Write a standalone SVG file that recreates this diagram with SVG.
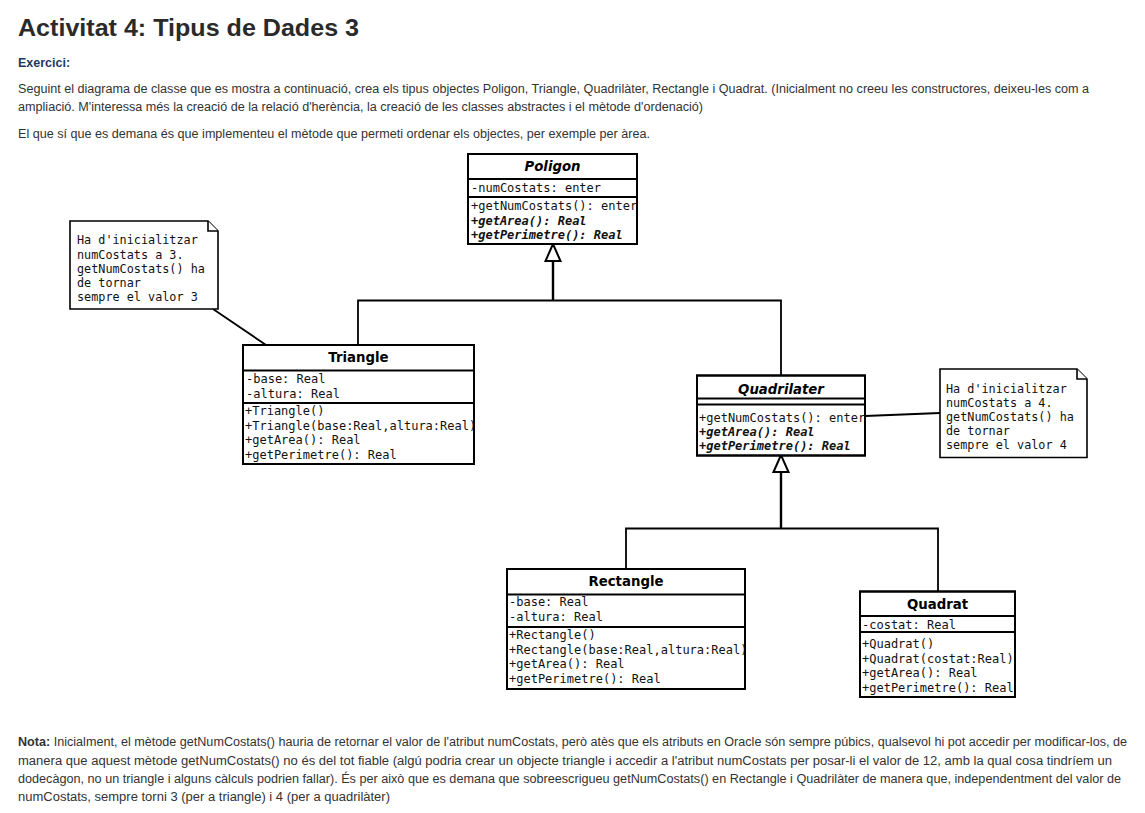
<svg xmlns="http://www.w3.org/2000/svg" width="1145" height="813" viewBox="0 0 1145 813">
<style>
.h1{font-family:"Liberation Sans",Arial,sans-serif;font-weight:bold;font-size:24px;fill:#2a2a2a}
.ex{font-family:"Liberation Sans",Arial,sans-serif;font-weight:bold;font-size:12.5px;fill:#1d3b5c}
.p{font-family:"Liberation Sans",Arial,sans-serif;font-size:12.3px;fill:#333}
.b{font-weight:bold}
.box{fill:#fff;stroke:#000;stroke-width:2}
.div{stroke:#000;stroke-width:2;fill:none}
.ttl{font-family:"DejaVu Sans",sans-serif;font-weight:bold;font-size:13.3px;fill:#000;text-anchor:middle}
.it{font-style:italic}
.m{font-family:"DejaVu Sans Mono",monospace;font-size:12px;fill:#111}
.mbi{font-weight:bold;font-style:italic}
.note{fill:#fff;stroke:#000;stroke-width:1.6}
.nt{font-family:"DejaVu Sans Mono",monospace;font-size:11.8px;fill:#111}
.ln{stroke:#000;stroke-width:1.8;fill:none}
.trunk{stroke:#000;stroke-width:2.4;fill:none}
.arr{fill:#fff;stroke:#000;stroke-width:2}
</style>
<defs>
<clipPath id="cPol"><rect x="468" y="154" width="169" height="90"/></clipPath>
<clipPath id="cTri"><rect x="243" y="345" width="231" height="119"/></clipPath>
<clipPath id="cQl"><rect x="697" y="375.5" width="168" height="80"/></clipPath>
<clipPath id="cRec"><rect x="507" y="569" width="238" height="120"/></clipPath>
<clipPath id="cQd"><rect x="860" y="591.5" width="155" height="105.5"/></clipPath>
</defs>
<rect width="1145" height="813" fill="#fff"/>

<g id="page-text">
<text class="h1" x="18" y="36" textLength="341" lengthAdjust="spacingAndGlyphs">Activitat 4: Tipus de Dades 3</text>
<text class="ex" x="18" y="67">Exercici:</text>
<text class="p" x="18" y="93" textLength="1071" lengthAdjust="spacingAndGlyphs">Seguint el diagrama de classe que es mostra a continuació, crea els tipus objectes Poligon, Triangle, Quadrilàter, Rectangle i Quadrat. (Inicialment no creeu les constructores, deixeu-les com a</text>
<text class="p" x="18" y="111" textLength="685" lengthAdjust="spacingAndGlyphs">ampliació. M'interessa més la creació de la relació d'herència, la creació de les classes abstractes i el mètode d'ordenació)</text>
<text class="p" x="18" y="138" textLength="632" lengthAdjust="spacingAndGlyphs">El que sí que es demana és que implementeu el mètode que permeti ordenar els objectes, per exemple per àrea.</text>
<text class="p" x="18" y="745.5" textLength="1109" lengthAdjust="spacingAndGlyphs"><tspan class="b">Nota:</tspan> Inicialment, el mètode getNumCostats() hauria de retornar el valor de l'atribut numCostats, però atès que els atributs en Oracle són sempre púbics, qualsevol hi pot accedir per modificar-los, de</text>
<text class="p" x="18" y="764.5" textLength="1094" lengthAdjust="spacingAndGlyphs">manera que aquest mètode getNumCostats() no és del tot fiable (algú podria crear un objecte triangle i accedir a l'atribut numCostats per posar-li el valor de 12, amb la qual cosa tindríem un</text>
<text class="p" x="18" y="782.5" textLength="1103" lengthAdjust="spacingAndGlyphs">dodecàgon, no un triangle i alguns càlculs podrien fallar). És per això que es demana que sobreescrigueu getNumCostats() en Rectangle i Quadrilàter de manera que, independentment del valor de</text>
<text class="p" x="18" y="800.5" textLength="372" lengthAdjust="spacingAndGlyphs">numCostats, sempre torni 3 (per a triangle) i 4 (per a quadrilàter)</text>
</g>

<g id="connectors">
<path class="trunk" d="M553,261 V300.5"/>
<path class="ln" d="M358,345 V300.5 H781 V375.5"/>
<polygon class="arr" points="553,244 545.5,261 560.5,261"/>
<path class="trunk" d="M781,472 V528.5"/>
<path class="ln" d="M626,569 V528.5 H938 V591.5"/>
<polygon class="arr" points="781,455 773.5,472 788.5,472"/>
<path class="ln" d="M213,309 L266,345"/>
<path class="ln" d="M865,416 L940,413"/>
</g>

<g id="Poligon">
<rect class="box" x="468" y="154" width="169" height="90"/>
<g clip-path="url(#cPol)">
<text class="ttl it" x="552.5" y="171">Poligon</text>
<text class="m" x="471" y="192">-numCostats: enter</text>
<text class="m" x="471" y="210">+getNumCostats(): enter</text>
<text class="m mbi" x="471" y="224.5">+getArea(): Real</text>
<text class="m mbi" x="471" y="239">+getPerimetre(): Real</text>
</g>
<path class="div" d="M468,179 H637 M468,197 H637"/>
<rect x="468" y="154" width="169" height="90" fill="none" stroke="#000" stroke-width="2"/>
</g>

<g id="note1">
<path class="note" d="M70,221 H208 L218,231 V309 H70 Z"/>
<path class="note" d="M208,221 V231 H218" fill="none"/>
<text class="nt" x="77" y="244">Ha d'inicialitzar</text>
<text class="nt" x="77" y="258.5">numCostats a 3.</text>
<text class="nt" x="77" y="273">getNumCostats() ha</text>
<text class="nt" x="77" y="287">de tornar</text>
<text class="nt" x="77" y="301">sempre el valor 3</text>
</g>

<g id="Triangle">
<rect class="box" x="243" y="345" width="231" height="119"/>
<g clip-path="url(#cTri)">
<text class="ttl" x="358.5" y="362">Triangle</text>
<text class="m" x="246" y="383">-base: Real</text>
<text class="m" x="246" y="397.5">-altura: Real</text>
<text class="m" x="245" y="415">+Triangle()</text>
<text class="m" x="245" y="429.5">+Triangle(base:Real,altura:Real)</text>
<text class="m" x="245" y="444">+getArea(): Real</text>
<text class="m" x="245" y="458.5">+getPerimetre(): Real</text>
</g>
<path class="div" d="M243,370.5 H474 M243,403 H474"/>
<rect x="243" y="345" width="231" height="119" fill="none" stroke="#000" stroke-width="2"/>
</g>

<g id="Quadrilater">
<rect class="box" x="697" y="375.5" width="168" height="80"/>
<g clip-path="url(#cQl)">
<text class="ttl it" x="781" y="393.5">Quadrilater</text>
<text class="m" x="699" y="421.5">+getNumCostats(): enter</text>
<text class="m mbi" x="699" y="435.5">+getArea(): Real</text>
<text class="m mbi" x="699" y="449.5">+getPerimetre(): Real</text>
</g>
<path class="div" d="M697,398.5 H865 M697,404.5 H865"/>
<rect x="697" y="375.5" width="168" height="80" fill="none" stroke="#000" stroke-width="2"/>
</g>

<g id="note2">
<path class="note" d="M940,369 H1077 L1087,379 V457.5 H940 Z"/>
<path class="note" d="M1077,369 V379 H1087" fill="none"/>
<text class="nt" x="946" y="392.5">Ha d'inicialitzar</text>
<text class="nt" x="946" y="406.5">numCostats a 4.</text>
<text class="nt" x="946" y="420.5">getNumCostats() ha</text>
<text class="nt" x="946" y="435">de tornar</text>
<text class="nt" x="946" y="449">sempre el valor 4</text>
</g>

<g id="Rectangle">
<rect class="box" x="507" y="569" width="238" height="120"/>
<g clip-path="url(#cRec)">
<text class="ttl" x="626" y="586">Rectangle</text>
<text class="m" x="509" y="606">-base: Real</text>
<text class="m" x="509" y="621">-altura: Real</text>
<text class="m" x="509" y="639">+Rectangle()</text>
<text class="m" x="509" y="653.5">+Rectangle(base:Real,altura:Real)</text>
<text class="m" x="509" y="668">+getArea(): Real</text>
<text class="m" x="509" y="682.5">+getPerimetre(): Real</text>
</g>
<path class="div" d="M507,594.5 H745 M507,627 H745"/>
<rect x="507" y="569" width="238" height="120" fill="none" stroke="#000" stroke-width="2"/>
</g>

<g id="Quadrat">
<rect class="box" x="860" y="591.5" width="155" height="105.5"/>
<g clip-path="url(#cQd)">
<text class="ttl" x="937.5" y="609">Quadrat</text>
<text class="m" x="862" y="629">-costat: Real</text>
<text class="m" x="862" y="648">+Quadrat()</text>
<text class="m" x="862" y="662.5">+Quadrat(costat:Real)</text>
<text class="m" x="862" y="677">+getArea(): Real</text>
<text class="m" x="862" y="691.5">+getPerimetre(): Real</text>
</g>
<path class="div" d="M860,616 H1015 M860,632 H1015"/>
<rect x="860" y="591.5" width="155" height="105.5" fill="none" stroke="#000" stroke-width="2"/>
</g>
</svg>
